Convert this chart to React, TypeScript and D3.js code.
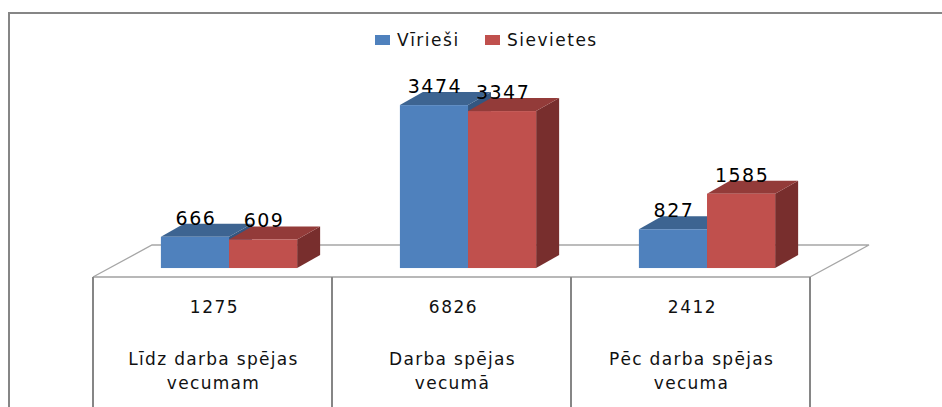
import React from "react";
import * as d3 from "d3";

const categories = ["c1", "c2", "c3"];
const categoryLines = [
  ["Līdz darba spējas", "vecumam"],
  ["Darba spējas", "vecumā"],
  ["Pēc darba spējas", "vecuma"],
];
const totals = [1275, 6826, 2412];
const seriesNames = ["Vīrieši", "Sievietes"];
const men = [666, 3474, 827];
const women = [609, 3347, 1585];

const W = 942;
const H = 407;

const colors = [
  { front: "#4F81BD", top: "#3D6491", side: "#345680" },
  { front: "#C0504D", top: "#933B39", side: "#782E2D" },
];

const FONT = "DejaVu Sans, sans-serif";

export default function App() {
  const tableTop = 277;
  const tableLeft = 93;
  const tableRight = 810;
  const floorDx = 59;
  const floorDy = 32;
  const f = 0.28;
  const sx = floorDx * f;
  const baseY = tableTop - floorDy * f;
  const depthDx = 23;
  const depthDy = 13;

  const x = d3.scaleBand<string>().domain(categories).range([tableLeft, tableRight]);
  const bw = x.bandwidth();
  const inner = d3
    .scaleBand<string>()
    .domain(seriesNames)
    .range([0.215 * bw, 0.785 * bw]);
  const y = d3.scaleLinear().domain([0, 4000]).range([baseY, baseY - 187.6]);

  const values = [men, women];

  const bars: React.ReactNode[] = [];
  const labels: React.ReactNode[] = [];
  categories.forEach((c, ci) => {
    seriesNames.forEach((s, si) => {
      const v = values[si][ci];
      const x0 = (x(c) as number) + sx + (inner(s) as number);
      const w = inner.bandwidth();
      const yt = y(v);
      const yb = y(0);
      const col = colors[si];
      const top = [
        [x0, yt],
        [x0 + depthDx, yt - depthDy],
        [x0 + w + depthDx, yt - depthDy],
        [x0 + w, yt],
      ];
      const side = [
        [x0 + w, yt],
        [x0 + w + depthDx, yt - depthDy],
        [x0 + w + depthDx, yb - depthDy],
        [x0 + w, yb],
      ];
      bars.push(
        <g key={`${c}-${s}`}>
          <polygon points={side.map((p) => p.join(",")).join(" ")} fill={col.side} />
          <polygon points={top.map((p) => p.join(",")).join(" ")} fill={col.top} />
          <rect x={x0} y={yt} width={w} height={yb - yt} fill={col.front} />
        </g>
      );
      labels.push(
        <text
          key={`l-${c}-${s}`}
          x={x0 + w / 2 + 1}
          y={yt - depthDy + 1}
          textAnchor="middle"
          fontFamily={FONT}
          fontSize={19}
          letterSpacing={1.5}
          fill="#000"
        >
          {v}
        </text>
      );
    });
  });

  const floorPts = [
    [tableLeft, tableTop],
    [tableLeft + floorDx, tableTop - floorDy],
    [tableRight + floorDx, tableTop - floorDy],
    [tableRight, tableTop],
  ];

  return (
    <svg
      width={W}
      height={H}
      style={{ position: "absolute", left: 0, top: 0, background: "#fff" }}
    >
      <rect x={0} y={0} width={W} height={H} fill="#fff" />
      {/* outer border */}
      <path d={`M9,${H} L9,13 L${W},13`} fill="none" stroke="#868686" strokeWidth={2} />
      {/* floor */}
      <polyline
        points={floorPts.map((p) => p.join(",")).join(" ")}
        fill="none"
        stroke="#A6A6A6"
        strokeWidth={1.3}
      />
      {bars}
      {labels}
      {/* table */}
      <line x1={tableLeft} y1={tableTop} x2={tableRight} y2={tableTop} stroke="#A0A0A0" strokeWidth={1.5} />
      {[...categories.map((c) => x(c) as number), tableRight].map((xx, i) => (
        <line key={`v${i}`} x1={xx} y1={tableTop} x2={xx} y2={H} stroke="#868686" strokeWidth={2} />
      ))}
      {categories.map((c, ci) => {
        const cx = (x(c) as number) + bw / 2 + 1;
        return (
          <g key={`t-${c}`} fontFamily={FONT} fill="#111" textAnchor="middle">
            <text x={cx + 1} y={313} fontSize={17} letterSpacing={1.5}>
              {totals[ci]}
            </text>
            {categoryLines[ci].map((ln, li) => (
              <text key={li} x={cx} y={365 + li * 24} fontSize={17} letterSpacing={1.3}>
                {ln}
              </text>
            ))}
          </g>
        );
      })}
      {/* legend */}
      {seriesNames.map((s, si) => {
        const lx = si === 0 ? 375 : 485;
        return (
          <g key={`lg-${s}`}>
            <rect x={lx} y={35} width={15} height={10} fill={colors[si].front} />
            <text
              x={lx + 22}
              y={46}
              fontFamily={FONT}
              fontSize={17}
              letterSpacing={1.5}
              fill="#111"
            >
              {s}
            </text>
          </g>
        );
      })}
    </svg>
  );
}
